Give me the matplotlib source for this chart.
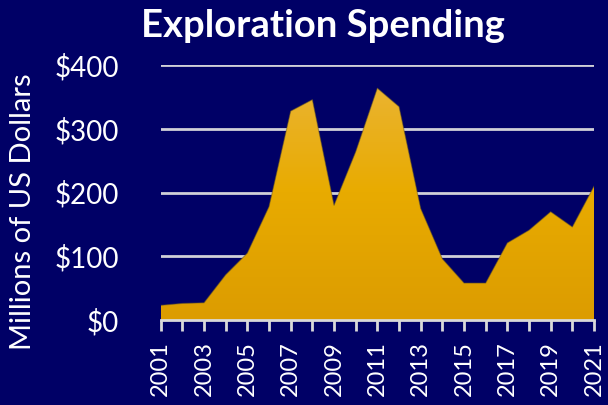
import numpy as np
import matplotlib
matplotlib.use("Agg")
import matplotlib.pyplot as plt
from matplotlib.colors import LinearSegmentedColormap

years = list(range(2001, 2022))
spending = [23, 26, 27, 71, 105, 178, 328, 346, 180, 264, 364, 335, 175, 96, 58, 58, 121, 141, 170, 146, 210]
yticks = [0, 100, 200, 300, 400]
ytick_labels = ["$0", "$100", "$200", "$300", "$400"]
xticks = list(range(2001, 2022, 2))
title = "Exploration Spending"
ylabel = "Millions of US Dollars"

BG = "#000066"
FONT = ["Lato", "DejaVu Sans"]

fig = plt.figure(figsize=(6.08, 4.05), dpi=100, facecolor=BG)
ax = fig.add_axes([0.2643, 0.2099, 0.977 - 0.2643, 0.8388 - 0.2099])
ax.set_facecolor(BG)
ax.set_xlim(2001, 2021)
ax.set_ylim(0, 400)

# gradient filled area
poly = ax.fill_between(years, spending, 0, color="none", lw=0, zorder=3)
cmap = LinearSegmentedColormap.from_list("gold", ["#dc9c00", "#e8ab00", "#ebb53a"])
grad = np.linspace(0, 1, 256).reshape(-1, 1)
img = ax.imshow(grad, cmap=cmap, aspect="auto", origin="lower",
                extent=[2001, 2021, 0, 400], zorder=3)
path = poly.get_paths()[0]
img.set_clip_path(path, transform=ax.transData)
ax.plot(years, spending, color="#6b5a20", lw=0.8, alpha=0.5, zorder=4)

# grid
for y in yticks[1:]:
    ax.axhline(y, color="#d0d0d8", lw=2, zorder=2)

for s in ["top", "right", "left"]:
    ax.spines[s].set_visible(False)
ax.spines["bottom"].set_color("#d9d9d9")
ax.spines["bottom"].set_linewidth(2)
ax.spines["bottom"].set_zorder(5)

ax.set_yticks(yticks)
ax.set_yticklabels(ytick_labels, family=FONT, fontsize=20, color="white")
ax.tick_params(axis="y", length=0, pad=30)
ax.set_xticks(years, minor=False)
ax.set_xticklabels([str(y) if y in xticks else "" for y in years],
                   family=FONT, fontsize=17, color="white", rotation=90)
ax.tick_params(axis="x", length=8, width=2, color="#d9d9d9", pad=7, direction="out")

fig.text(0.531, 0.978, title, ha="center", va="top", family=FONT,
         fontsize=27.5, fontweight="bold", color="white")
fig.text(0.038, 0.478, ylabel, ha="center", va="center", rotation=90,
         family=FONT, fontsize=21, color="white")

fig.savefig("out.png", dpi=100, facecolor=BG)
